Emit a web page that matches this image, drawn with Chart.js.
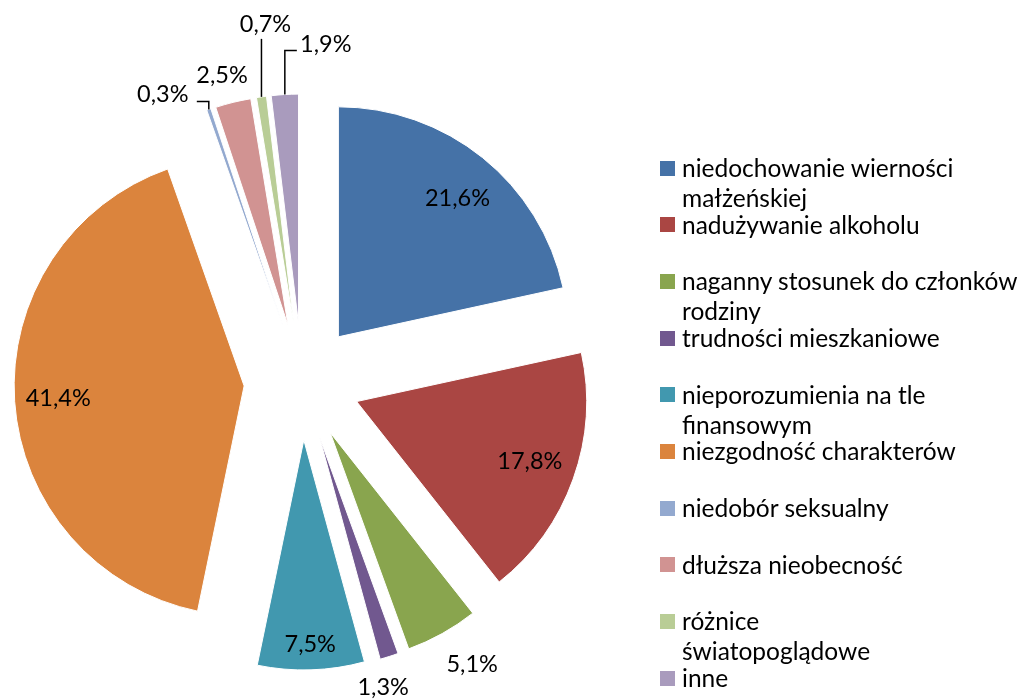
<!DOCTYPE html>
<html>
<head>
<meta charset="utf-8">
<script src="https://cdn.jsdelivr.net/npm/chart.js@4/dist/chart.umd.min.js"></script>
<style>
  html, body { margin: 0; padding: 0; background: #fff; }
  #wrap { position: relative; width: 1022px; height: 699px; overflow: hidden; }
  #wrap canvas { position: absolute; left: 0; top: 0; }
  #legend { position: absolute; left: 0; top: 0; width: 1022px; height: 699px; pointer-events: none;
            font-family: Lato, "Noto Sans", sans-serif; font-size: 24.5px; color: #000; }
  .item { position: absolute; left: 660px; white-space: nowrap; line-height: 30px; }
  .sw { position: absolute; left: 0; top: 7.5px; width: 15px; height: 15px; }
  .txt { position: absolute; left: 22px; top: 0; }
</style>
</head>
<body>
<div id="wrap">
  <canvas id="c" width="1022" height="699"></canvas>
  <div id="legend"></div>
</div>
<script>
// ---- data ----
const categories = [
  ['niedochowanie wierności', 'małżeńskiej'],
  ['nadużywanie alkoholu'],
  ['naganny stosunek do członków', 'rodziny'],
  ['trudności mieszkaniowe'],
  ['nieporozumienia na tle', 'finansowym'],
  ['niezgodność charakterów'],
  ['niedobór seksualny'],
  ['dłuższa nieobecność'],
  ['różnice', 'światopoglądowe'],
  ['inne']
];
const values = [21.6, 17.8, 5.1, 1.3, 7.5, 41.4, 0.3, 2.5, 0.7, 1.9];
const colors = ['#4572A7', '#AA4643', '#89A54E', '#71588F', '#4198AF',
                '#DB843D', '#93A9CF', '#D19392', '#B9CD96', '#A99BBD'];

// label placement (style only): f = fraction of radius along slice middle,
// dx/dy = extra shift, leader = elbow leader line relative to label centre
const labelPlacement = [
  { f: 0.77, dx: 8 },
  { f: 0.80, dy: -2 },
  { f: 1, dx: 30, dy: 31 },
  { f: 1, dx: -6, dy: 31 },
  { f: 0.89 },
  { f: 0.81 },
  { f: 1, dx: -46, dy: -15, leader: { ly: 7, lx: 34 } },
  { f: 1, dx: -11, dy: -27 },
  { f: 1, dx: 4, dy: -72, leader: { ly: 14 } },
  { f: 1, dx: 41, dy: -50, leader: { ly: 6, lx: -29 } }
];
const EXPLODE = 58;
const FONT = '23.5px Lato, "Noto Sans", sans-serif';

const explodePlugin = {
  id: 'explode',
  afterDatasetUpdate(chart, args) {
    args.meta.data.forEach(arc => {
      const mid = (arc.startAngle + arc.endAngle) / 2;
      arc.x += Math.cos(mid) * EXPLODE;
      arc.y += Math.sin(mid) * EXPLODE;
    });
  }
};

const labelPlugin = {
  id: 'sliceLabels',
  afterDatasetsDraw(chart) {
    const ctx = chart.ctx;
    const meta = chart.getDatasetMeta(0);
    ctx.save();
    ctx.font = FONT;
    ctx.fillStyle = '#000';
    ctx.textAlign = 'center';
    ctx.textBaseline = 'middle';
    ctx.strokeStyle = '#000';
    ctx.lineWidth = 1.5;
    meta.data.forEach((arc, i) => {
      const p = labelPlacement[i];
      const mid = (arc.startAngle + arc.endAngle) / 2;
      const dx = Math.cos(mid), dy = Math.sin(mid);
      const r = arc.outerRadius;
      const lx = arc.x + dx * r * p.f + (p.dx || 0);
      const ly = arc.y + dy * r * p.f + (p.dy || 0);
      const txt = values[i].toFixed(1).replace('.', ',') + '%';
      ctx.fillText(txt, lx, ly);
      if (p.leader) {
        const tx = arc.x + dx * r, ty = arc.y + dy * r;
        ctx.beginPath();
        ctx.moveTo(tx, ty);
        ctx.lineTo(tx, ly + p.leader.ly);
        if (p.leader.lx !== undefined) ctx.lineTo(lx + p.leader.lx, ly + p.leader.ly);
        ctx.stroke();
      }
    });
    ctx.restore();
  }
};

const chart = new Chart(document.getElementById('c'), {
  type: 'pie',
  data: {
    labels: categories,
    datasets: [{
      data: values,
      backgroundColor: colors,
      borderColor: '#ffffff',
      borderWidth: 1
    }]
  },
  options: {
    responsive: false,
    animation: false,
    radius: 230,
    layout: { padding: { left: 0, right: 418, top: 65, bottom: 0 } },
    plugins: {
      legend: { display: false },
      tooltip: { enabled: false }
    }
  },
  plugins: [explodePlugin, labelPlugin]
});

// ---- HTML legend built from the same arrays ----
const leg = document.getElementById('legend');
categories.forEach((lines, i) => {
  const item = document.createElement('div');
  item.className = 'item';
  item.style.top = (153 + i * 56.67) + 'px';
  const sw = document.createElement('div');
  sw.className = 'sw';
  sw.style.background = colors[i];
  const t = document.createElement('div');
  t.className = 'txt';
  t.innerHTML = lines.map(s => s.replace(/&/g, '&amp;').replace(/</g, '&lt;')).join('<br>');
  item.appendChild(sw);
  item.appendChild(t);
  leg.appendChild(item);
});
</script>
</body>
</html>
